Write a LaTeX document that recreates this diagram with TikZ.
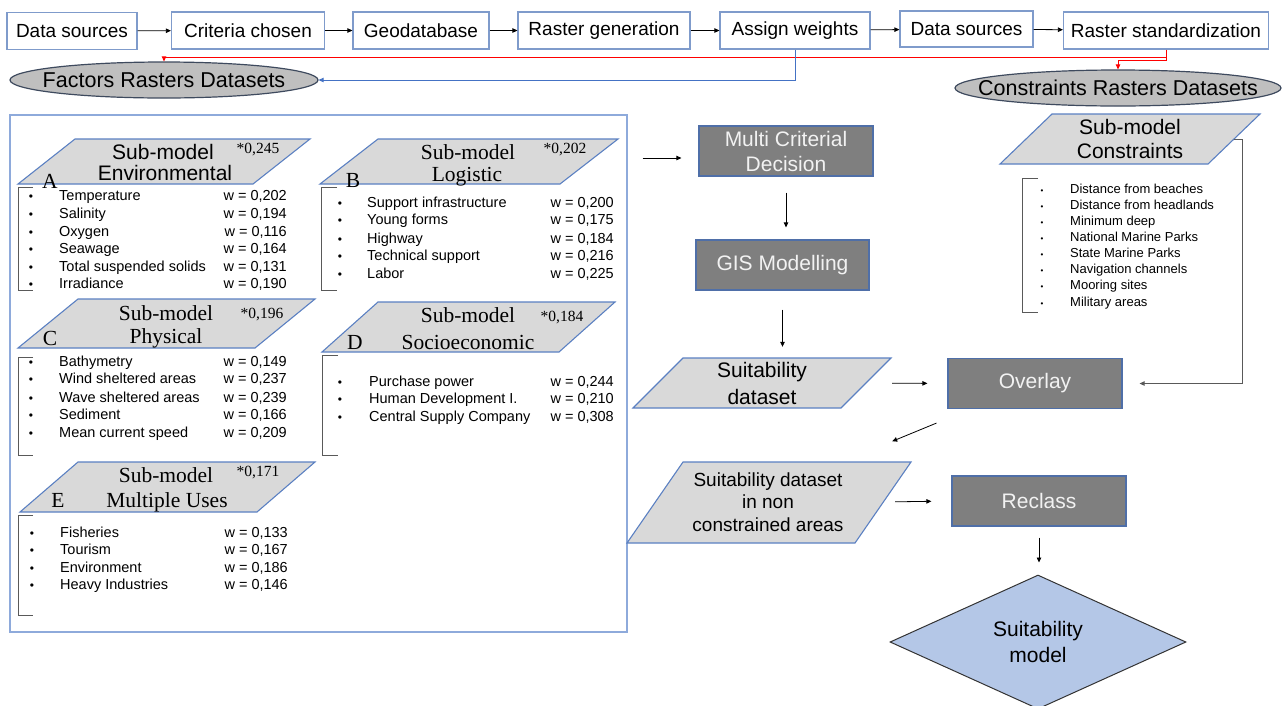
\documentclass[tikz,border=0pt]{standalone}
\usepackage{fontspec}
\setmainfont{Liberation Sans}
\newfontfamily\serifface{Liberation Serif}
\usetikzlibrary{shapes.geometric,arrows.meta,calc}

\definecolor{boxblue}{HTML}{7F9BCB}
\definecolor{panelblue}{HTML}{8EAADB}
\definecolor{ellgray}{HTML}{BFBFBF}
\definecolor{ellline}{HTML}{3E4A5E}
\definecolor{subgray}{HTML}{D9D9D9}
\definecolor{subline}{HTML}{5B80C2}
\definecolor{darkbox}{HTML}{7F7F7F}
\definecolor{darkline}{HTML}{4F6FA8}
\definecolor{modelblue}{HTML}{B4C7E7}
\definecolor{linkred}{HTML}{FF0000}
\definecolor{linkblue}{HTML}{4472C4}

\tikzset{
  topbox/.style={draw=boxblue, line width=1.2pt, fill=white, minimum height=37pt, inner sep=0pt, font=\fontsize{19}{22}\selectfont},
  dataset/.style={ellipse, draw=ellline, line width=1.2pt, fill=ellgray, minimum height=36pt, inner sep=0pt, font=\fontsize{21.5}{24}\selectfont},
  process/.style={draw=darkline, line width=1.2pt, fill=darkbox, text=white!95!black, minimum width=174pt, minimum height=50pt, inner sep=0pt, align=center, font=\fontsize{21}{25}\selectfont},
  slanted/.style={draw=subline, line width=1.1pt, fill=subgray},
  slantlabel/.style={inner sep=0pt, align=center},
  headsans/.style={inner sep=0pt, font=\fontsize{21}{24}\selectfont},
  headserif/.style={inner sep=0pt, font=\serifface\fontsize{21.5}{24}\selectfont},
  weightnote/.style={inner sep=0pt, font=\serifface\fontsize{15.5}{18}\selectfont},
  item/.style={anchor=west, inner sep=0pt, text height=13pt, text depth=3pt, font=\fontsize{14.5}{16}\selectfont},
  weight/.style={anchor=east, inner sep=0pt, text height=13pt, text depth=3pt, font=\fontsize{14.5}{16}\selectfont},
  dot/.style={inner sep=0pt, text height=13pt, text depth=3pt, font=\fontsize{12}{14}\selectfont},
  bracket/.style={draw=black!65, line width=1pt},
  arr/.style={-{Triangle[length=5pt,width=4.5pt]}, line width=0.8pt, black},
  grayarr/.style={-{Triangle[length=5pt,width=4.5pt]}, line width=1pt, black!65},
  redarr/.style={-{Triangle[length=5pt,width=4.5pt]}, line width=0.9pt, linkred},
  bluearr/.style={-{Triangle[length=5pt,width=4.5pt]}, line width=0.9pt, linkblue}
}

\newcommand{\slantbox}[5]{\draw[slanted] (#1+#5,#2) -- ++(#3,0) -- ++(-#5,#4) -- ++(-#3,0) -- cycle;}

\begin{document}
\begin{tikzpicture}[x=1pt, y=-1pt]
\useasboundingbox (0,0) rectangle (1282,705);

\node[topbox, minimum width=130pt] (src1) at (72,31) {Data sources};
\node[topbox, minimum width=153pt] (crit) at (248,30.5) {Criteria chosen};
\node[topbox, minimum width=136pt] (geo) at (421,30.5) {Geodatabase};
\node[topbox, minimum width=172pt] (rgen) at (604,30.5) {Raster generation};
\node[topbox, minimum width=150pt] (assign) at (795,30.5) {Assign weights};
\node[topbox, minimum width=133pt, minimum height=36pt] (src2) at (966.5,29) {Data sources};
\node[topbox, minimum width=205pt] (rstd) at (1166,30.5) {Raster standardization};
\foreach \a/\b in {src1/crit, crit/geo, geo/rgen, rgen/assign, assign/src2, src2/rstd}
  \draw[arr] (\a) -- (\b);

\node[dataset, minimum width=308pt] (factors) at (164,80) {\makebox[0pt]{Factors Rasters Datasets}};
\node[dataset, minimum width=326pt] (cons) at (1118,88) {\makebox[0pt]{Constraints Rasters Datasets}};
\draw[redarr] (rstd.south) -- ++(0,11) -| (cons.north);
\draw[redarr] (rstd.south |- 0,57) -| (factors.north);
\draw[bluearr] (assign.south) |- (factors.east);

\node[draw=panelblue, line width=1.2pt, minimum width=617pt, minimum height=517pt, inner sep=0pt] (panel) at (318.5,373.5) {};

\slantbox{18}{139}{235}{45}{57}
\node[headsans] (aSub) at (163,152) {Sub-model};
\node[headsans] (aName) at (165,173) {Environmental};
\node[weightnote] (aNote) at (258,150) {*0,245};
\node[headserif] (aTag) at (50,181) {A};
\draw[bracket] (33,187) -| (18,290) -- (33,290);
\foreach \yy/\txt/\wt [count=\i] in {195/Temperature/202, 213/Salinity/194, 231/Oxygen/116, 248/Seawage/164, 266/Total suspended solids/131, 283/Irradiance/190}{
  \node[dot] (aDot\i) at (31,\yy) {\textbullet};
  \node[item] (aItem\i) at (59,\yy) {\txt};
  \node[weight] (aW\i) at (287,\yy) {w = 0,\wt};
}

\slantbox{320}{139}{240}{45}{58}
\node[headserif] (bSub) at (468,152) {Sub-model};
\node[headserif] (bName) at (467,177) {Logistic};
\node[weightnote] (bNote) at (565,150) {*0,202};
\node[headserif] (bTag) at (353,180) {B};
\draw[bracket] (337,187) -| (321,290) -- (337,290);
\foreach \yy/\txt/\wt [count=\i] in {202/Support infrastructure/200, 219/Young forms/175, 238/Highway/184, 255/Technical support/216, 273/Labor/225}{
  \node[dot] (bDot\i) at (340,\yy) {\textbullet};
  \node[item] (bItem\i) at (367,\yy) {\txt};
  \node[weight] (bW\i) at (614,\yy) {w = 0,\wt};
}

\slantbox{18}{299}{237}{49}{60}
\node[headserif] (cSub) at (166,313) {Sub-model};
\node[headserif] (cName) at (166,338) {Physical};
\node[weightnote] (cNote) at (262,315) {*0,196};
\node[headserif] (cTag) at (50,338) {C};
\draw[bracket] (33,357) -| (18,455) -- (33,455);
\foreach \yy/\txt/\wt [count=\i] in {361/Bathymetry/149, 378/Wind sheltered areas/237, 397/Wave sheltered areas/239, 414/Sediment/166, 432/Mean current speed/209}{
  \node[dot] (cDot\i) at (31,\yy) {\textbullet};
  \node[item] (cItem\i) at (59,\yy) {\txt};
  \node[weight] (cW\i) at (287,\yy) {w = 0,\wt};
}

\slantbox{322}{302}{237}{50}{56}
\node[headserif] (dSub) at (468,315) {Sub-model};
\node[headserif] (dName) at (468,342) {Socioeconomic};
\node[weightnote] (dNote) at (562,318) {*0,184};
\node[headserif] (dTag) at (355,342) {D};
\draw[bracket] (338,355) -| (322,455) -- (338,455);
\foreach \yy/\txt/\wt [count=\i] in {381/Purchase power/244, 398/Human Development I./210, 416/Central Supply Company/308}{
  \node[dot] (dDot\i) at (340,\yy) {\textbullet};
  \node[item] (dItem\i) at (369,\yy) {\txt};
  \node[weight] (dW\i) at (614,\yy) {w = 0,\wt};
}

\slantbox{20}{462}{237}{50}{58}
\node[headserif] (eSub) at (166,475) {Sub-model};
\node[headserif] (eName) at (167,502) {Multiple Uses};
\node[weightnote] (eNote) at (258,473) {*0,171};
\node[headserif] (eTag) at (58,500) {E};
\draw[bracket] (33,515) -| (18,615) -- (33,615);
\foreach \yy/\txt/\wt [count=\i] in {532/Fisheries/133, 549/Tourism/167, 567/Environment/186, 584/Heavy Industries/146}{
  \node[dot] (eDot\i) at (32,\yy) {\textbullet};
  \node[item] (eItem\i) at (60,\yy) {\txt};
  \node[weight] (eW\i) at (288,\yy) {w = 0,\wt};
}

\node[process] (mcd) at (786,151) {Multi Criterial\\Decision};
\node[process, minimum width=173pt] (gis) at (782.5,265) {GIS Modelling};
\slantbox{633}{358}{208}{50}{50}
\node[slantlabel, minimum width=208pt, minimum height=50pt, font=\fontsize{21}{27}\selectfont] (suit) at (762,383) {Suitability\\dataset};
\node[process] (overlay) at (1035,383.5) {Overlay};

\slantbox{1000}{114}{208}{50}{52}
\node[slantlabel, minimum width=208pt, minimum height=50pt, font=\fontsize{21}{24}\selectfont] (con) at (1130,139) {Sub-model\\Constraints};
\draw[bracket] (1038,178) -| (1022,312) -- (1038,312);
\foreach \yy/\txt [count=\i] in {188/Distance from beaches, 204/Distance from headlands, 220/Minimum deep, 236/National Marine Parks, 252/State Marine Parks, 268/Navigation channels, 284/Mooring sites, 301/Military areas}{
  \node[dot, font=\fontsize{8}{10}\selectfont] (kDot\i) at (1042,\yy) {\textbullet};
  \node[item, font=\fontsize{13}{15}\selectfont] (kItem\i) at (1070,\yy) {\txt};
}

\slantbox{627}{462}{228}{81}{56}
\node[slantlabel, minimum width=228pt, minimum height=81pt, font=\fontsize{19}{22.5}\selectfont] (nonc) at (768,502) {Suitability dataset\\in non\\constrained areas};
\node[process] (reclass) at (1039,501) {Reclass};
\node[diamond, draw=black!80, fill=modelblue, line width=1pt, minimum width=296pt, minimum height=134pt, aspect=2.2, inner sep=0pt, align=center, font=\fontsize{21}{26}\selectfont] (model) at (1038,642) {Suitability\\model};

\coordinate (mcdin) at ([yshift=-7pt]mcd.west);
\draw[arr, shorten <=15pt, shorten >=17pt] (mcdin -| panel.east) -- (mcdin);
\draw[arr, shorten <=16pt, shorten >=12pt] (mcd.south) -- (mcd.south |- gis.north);
\draw[arr, shorten <=19pt, shorten >=11pt] (gis.south) -- (gis.south |- suit.north);
\draw[arr, shorten <=26pt, shorten >=20pt] (suit.east) -- (overlay.west);
\draw[grayarr, shorten >=17pt] (con.east) -- ++(8,0) |- (overlay.east);
\draw[arr] ($(overlay.south west)+(-11,14)$) -- ($(nonc.north east)+(10,-20)$);
\draw[arr, shorten <=13pt, shorten >=20pt] (nonc.east) -- (reclass.west);
\draw[arr, shorten <=11pt, shorten >=12pt] (reclass.south) -- (reclass.south |- model.north);
\end{tikzpicture}
\end{document}
